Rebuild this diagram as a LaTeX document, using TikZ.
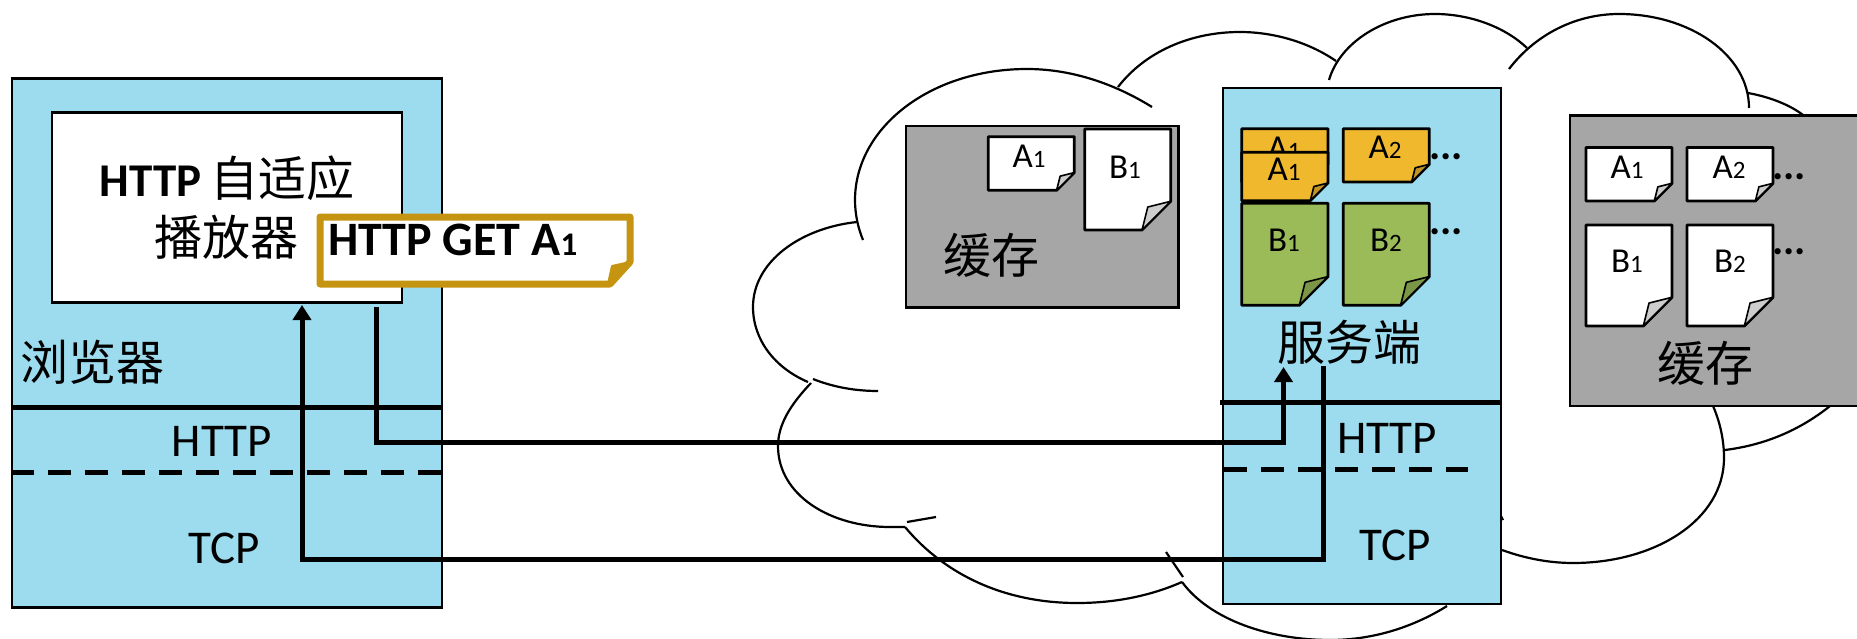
\documentclass[tikz,border=0pt]{standalone}
\usepackage{fontspec}
\setmainfont{Carlito}
\newfontfamily\cjk{Noto Sans CJK SC}
\usetikzlibrary{arrows.meta}
\definecolor{boxblue}{HTML}{9DDCEE}
\definecolor{cachegray}{HTML}{A6A6A6}
\definecolor{noteorange}{HTML}{F0B92D}
\definecolor{noteorangedk}{HTML}{C09425}
\definecolor{notegreen}{HTML}{9BBB59}
\definecolor{notegreendk}{HTML}{7C9647}
\definecolor{foldgray}{HTML}{CDCDCD}
\definecolor{gold}{HTML}{C59410}
\newcommand\fs[1]{\fontsize{#1}{#1}\selectfont}
\newcommand\sub[1]{{\fs{25}#1}}
\newcommand\docnote[7]{%
  \path[docline,fill=#6] (#1,#2) -- (#3,#2) -- (#3,{#4-#5}) -- ({#3-#5},#4) -- (#1,#4) -- cycle;
  \path[docfold,fill=#7] (#3,{#4-#5}) -- ({#3-0.8*#5},{#4-0.8*#5}) -- ({#3-#5},#4) -- cycle;
}
\tikzset{
  cloudarc/.style={draw=black,line width=2.2pt},
  stackbox/.style={draw=black,line width=2.4pt,fill=boxblue},
  cachebox/.style={draw=black,line width=2.4pt,fill=cachegray},
  docline/.style={draw=black,line width=2.8pt,line join=round},
  docfold/.style={draw=black,line width=1.6pt,line join=round},
  doclabel/.style={inner sep=0pt,font=\fs{35}},
  stacklabel/.style={inner sep=0pt,font=\fs{47}},
  cjklabel/.style={inner sep=0pt,font=\cjk\fs{48}},
  layerline/.style={line width=5pt},
  layerdash/.style={line width=5pt,dash pattern=on 23pt off 14pt},
  conn/.style={line width=5pt,line join=miter},
  connarrow/.style={conn,-{Triangle[length=15pt,width=18pt]}},
  dotsnode/.style={inner sep=0pt,anchor=base west,font=\fs{42}\bfseries},
}
\begin{document}
\begin{tikzpicture}[x=1pt,y=-1pt]
\useasboundingbox (0,0) rectangle (1857,639);
\fill[white] (0,0) rectangle (1857,639);
% cloud
\draw[cloudarc] (863,240) .. controls (858,228) and (855,214) .. (855,200) .. controls (855,128) and (930,69) .. (1027,69) .. controls (1072,69) and (1115,84) .. (1152,107);
\draw[cloudarc] (1118,87) .. controls (1145,52) and (1190,32) .. (1240,32) .. controls (1275,32) and (1310,43) .. (1336,61);
\draw[cloudarc] (1329,80) .. controls (1340,42) and (1385,14) .. (1435,14) .. controls (1470,14) and (1505,27) .. (1527,48);
\draw[cloudarc] (1509,69) .. controls (1535,35) and (1575,14) .. (1619,14) .. controls (1690,14) and (1749,55) .. (1749,108);
\draw[cloudarc] (1748,93) .. controls (1770,97) and (1790,105) .. (1803,115);
\draw[cloudarc] (1830,406) .. controls (1800,430) and (1765,445) .. (1725,450);
\draw[cloudarc] (1713,406) .. controls (1720,422) and (1724,440) .. (1724,458) .. controls (1724,520) and (1655,563) .. (1573,563) .. controls (1548,563) and (1524,558) .. (1502,550);
\draw[cloudarc] (1499,512) -- (1503,520);
\draw[cloudarc] (1182,582) .. controls (1210,620) and (1270,640) .. (1330,640) .. controls (1375,640) and (1415,626) .. (1447,606);
\draw[cloudarc] (905,527) .. controls (945,575) and (1005,603) .. (1077,603) .. controls (1115,603) and (1150,596) .. (1182,582);
\draw[cloudarc] (1166,552) -- (1183,577);
\draw[cloudarc] (811,383) .. controls (790,405) and (778,425) .. (778,446) .. controls (778,495) and (830,527) .. (890,527) -- (905,527);
\draw[cloudarc] (857,222) .. controls (800,228) and (753,262) .. (753,307) .. controls (753,340) and (775,368) .. (808,382);
\draw[cloudarc] (813,379) .. controls (833,387) and (855,391) .. (878,391);
\draw[cloudarc] (907,522) -- (936,517);
% browser
\node[stackbox,minimum width=430pt,minimum height=529pt,inner sep=0pt] (browser) at (227,343) {};
\node[draw=black,line width=2.4pt,fill=white,minimum width=350pt,minimum height=190pt,inner sep=0pt] (player) at (227,207.5) {};
\node[inner sep=0pt,font=\fs{47}\bfseries] (playerline) at (227,178) {HTTP\hspace{9pt}{\cjk\mdseries\fs{48}自适应}};
\node[cjklabel] (playerline2) at (226,237) {播放器};
\node[cjklabel] (browserlabel) at (92,362) {浏览器};
\draw[layerline] (browser.west |- 0,407.5) coordinate (bh1) -- (browser.east |- 0,407.5) coordinate (bh2);
\draw[layerdash] (browser.west |- 0,472.5) coordinate (bd1) -- (browser.east |- 0,472.5) coordinate (bd2);
\node[stacklabel] (bhttp) at (222,441) {HTTP};
\node[stacklabel] (btcp) at (224,548) {TCP};
% request note
\path[draw=gold,line width=7pt,line join=round,fill=white] (320,217) -- (630,217) -- (630,262) -- (610,284) -- (320,284) -- cycle;
\path[fill=gold,draw=gold,line width=2pt,line join=round] (630,262) -- (612,266) -- (608,284) -- cycle;
\node[inner sep=0pt,anchor=west,font=\fs{48}\bfseries] (req) at (328,240) {HTTP GET A{\fs{33}1}};
% left cache
\node[cachebox,minimum width=272.6pt,minimum height=181.7pt,inner sep=0pt] (cache1) at (1042,216.8) {};
\docnote{988.3}{136.7}{1074.3}{190.3}{17.7}{white}{foldgray}
\node[doclabel] (c1a) at (1029,156) {A\sub{1}};
\docnote{1084.7}{129}{1170.7}{230}{28.7}{white}{foldgray}
\node[doclabel] (c1b) at (1125,167) {B\sub{1}};
\node[cjklabel] (c1t) at (991.7,255) {缓存};
% server
\node[stackbox,minimum width=278pt,minimum height=516pt,inner sep=0pt] (server) at (1362,346) {};
\docnote{1241.7}{128.7}{1328}{182}{17.7}{noteorange}{noteorangedk}
\node[doclabel] (sa0) at (1284,148) {A\sub{1}};
\docnote{1241.7}{152.3}{1328}{200.7}{17.7}{noteorange}{noteorangedk}
\node[doclabel] (sa1) at (1284,169) {A\sub{1}};
\docnote{1343.3}{128.7}{1429.3}{182}{17.7}{noteorange}{noteorangedk}
\node[doclabel] (sa2) at (1385,147) {A\sub{2}};
\docnote{1241.7}{203.3}{1328}{305.3}{28.7}{notegreen}{notegreendk}
\node[doclabel] (sb1) at (1284,240) {B\sub{1}};
\docnote{1343.3}{203.3}{1429.3}{305.3}{28.7}{notegreen}{notegreendk}
\node[doclabel] (sb2) at (1386,240) {B\sub{2}};
\node[dotsnode] (sd1) at (1429,160) {...};
\node[dotsnode] (sd2) at (1429,234) {...};
\node[cjklabel] (st) at (1349,342) {服务端};
\node[stacklabel] (shttp) at (1387,438) {HTTP};
\node[stacklabel] (stcp) at (1395,545) {TCP};
\coordinate (sh1) at (1220,402.5);
\draw[layerline] (sh1) -- (server.east |- sh1);
\coordinate (sd0) at (1224,469);
\coordinate (sde) at (1468,469);
\draw[layerdash] (sd0) -- (sde);
% right cache
\path[cachebox] (1858,115.4) -- (1570,115.4) -- (1570,406) -- (1858,406);
\docnote{1586}{147.6}{1672}{201}{17.7}{white}{foldgray}
\node[doclabel] (ca1) at (1627,167) {A\sub{1}};
\docnote{1687}{147.6}{1773}{201}{17.7}{white}{foldgray}
\node[doclabel] (ca2) at (1729,167) {A\sub{2}};
\docnote{1586}{225}{1672}{326}{28.7}{white}{foldgray}
\node[doclabel] (cb1) at (1627,261) {B\sub{1}};
\docnote{1687}{225}{1773}{326}{28.7}{white}{foldgray}
\node[doclabel] (cb2) at (1730,261) {B\sub{2}};
\node[dotsnode] (cd1) at (1772,180) {...};
\node[dotsnode] (cd2) at (1772,254) {...};
\node[cjklabel] (ct) at (1705,363) {缓存};
% connectors
\coordinate (u1) at (376.5,307);
\coordinate (u2) at (1283.5,442);
\coordinate (u3) at (1283.5,367);
\draw[connarrow] (u1) |- (u2) -- (u3);
\coordinate (r1) at (1323.5,366);
\coordinate (r2) at (302,559);
\coordinate (r3) at (302,305);
\draw[connarrow] (r1) |- (r2) -- (r3);
\end{tikzpicture}
\end{document}
